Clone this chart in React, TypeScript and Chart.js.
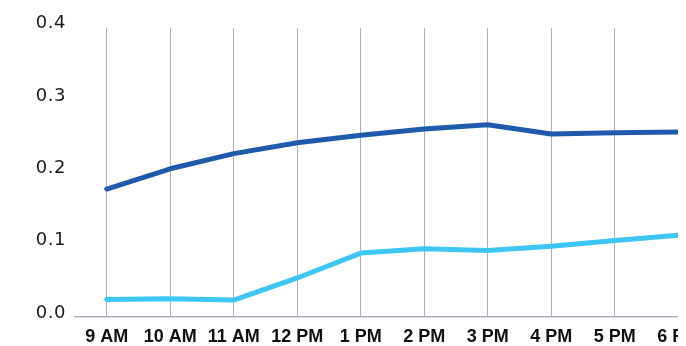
import React, { useEffect, useRef } from "react";
import { Chart, registerables } from "chart.js";

Chart.register(...registerables);

const categories = ["9 AM", "10 AM", "11 AM", "12 PM", "1 PM", "2 PM", "3 PM", "4 PM", "5 PM", "6 PM"];
const seriesDark = [0.177, 0.205, 0.226, 0.241, 0.2515, 0.26, 0.266, 0.253, 0.255, 0.256];
const seriesLight = [0.0243, 0.0252, 0.0234, 0.054, 0.0884, 0.0944, 0.0921, 0.098, 0.1058, 0.1131];
const yTicks = [0, 0.1, 0.2, 0.3, 0.4];

export default function App() {
  const ref = useRef<HTMLCanvasElement | null>(null);

  useEffect(() => {
    document.documentElement.style.overflow = "hidden";
    document.body.style.overflow = "hidden";
    const canvas = ref.current;
    if (!canvas) return;
    const grid = "#aab2bd";
    const chart = new Chart(canvas, {
      type: "line",
      data: {
        labels: categories,
        datasets: [
          {
            data: seriesDark,
            borderColor: "#1f5baa",
            borderWidth: 5,
            pointRadius: 0,
            tension: 0,
            borderJoinStyle: "round",
            borderCapStyle: "round",
          },
          {
            data: seriesLight,
            borderColor: "#3ec7f4",
            borderWidth: 5,
            pointRadius: 0,
            tension: 0,
            borderJoinStyle: "round",
            borderCapStyle: "round",
          },
        ],
      },
      options: {
        responsive: false,
        animation: false,
        devicePixelRatio: 1,
        layout: { padding: { top: 18, right: 0, left: 0, bottom: 0 } },
        plugins: { legend: { display: false }, tooltip: { enabled: false } },
        scales: {
          x: {
            offset: true,
            grid: { display: true, color: grid, lineWidth: 1, drawTicks: false, offset: false },
            border: { display: true, color: grid, width: 1.5 },
            ticks: {
              padding: 9,
              color: "#111",
              maxRotation: 0,
              autoSkip: false,
              font: { family: "'Liberation Sans', Arial, sans-serif", size: 18, weight: "bold" },
            },
            afterFit: (s: any) => {
              s.height = 29;
            },
          },
          y: {
            min: 0,
            max: 0.4,
            afterBuildTicks: (s: any) => {
              s.ticks = yTicks.map((v) => ({ value: v }));
            },
            grid: { display: false, drawTicks: false },
            border: { display: false },
            ticks: {
              padding: 9,
              labelOffset: -4,
              color: "#1a1a1a",
              font: { family: "'DejaVu Sans', sans-serif", size: 18 },
              callback: (v: any) => Number(v).toFixed(1),
            },
            afterFit: (s: any) => {
              s.width = 67;
            },
          },
        },
      },
    });
    const patch = (scale: any, spacing: string) => {
      const orig = scale.drawLabels.bind(scale);
      scale.drawLabels = (area: any) => {
        const ctx: any = chart.ctx;
        const prev = ctx.letterSpacing;
        ctx.letterSpacing = spacing;
        orig(area);
        ctx.letterSpacing = prev || "0px";
      };
    };
    patch(chart.scales.y, "0.5px");
    chart.draw();
    return () => chart.destroy();
  }, []);

  return (
    <div style={{ width: 678, height: 338, overflow: "hidden" }}>
      <canvas ref={ref} width={702} height={338} style={{ display: "block" }} />
    </div>
  );
}
